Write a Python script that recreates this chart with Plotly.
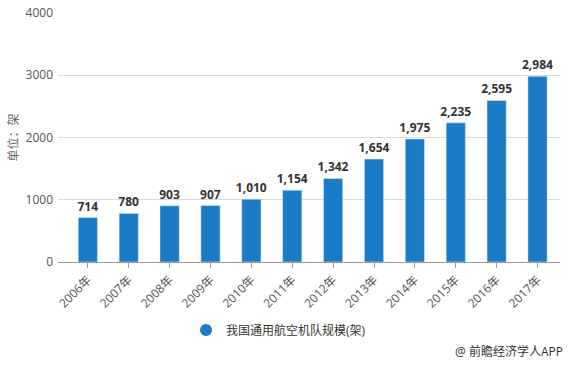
import plotly.graph_objects as go

years = ["2006年", "2007年", "2008年", "2009年", "2010年", "2011年",
         "2012年", "2013年", "2014年", "2015年", "2016年", "2017年"]
fleet = [714, 780, 903, 907, 1010, 1154, 1342, 1654, 1975, 2235, 2595, 2984]
series_name = "我国通用航空机队规模(架)"
y_ticks = [0, 1000, 2000, 3000, 4000]

FONT = "Open Sans, Noto Sans CJK SC, sans-serif"
BAR = "#1b7bc7"

fig = go.Figure()
fig.add_trace(go.Bar(
    x=list(range(len(years))),
    y=fleet,
    name=series_name,
    marker=dict(color=BAR),
    width=0.47,
    text=[f"{v:,}" for v in fleet],
    textposition="outside",
    textfont=dict(family=FONT, size=12, color="#333333", weight="bold"),
    cliponaxis=False,
    showlegend=False,
))
# legend entry with circular marker
fig.add_trace(go.Scatter(
    x=[None], y=[None], mode="markers", name=series_name,
    marker=dict(symbol="circle", size=11, color=BAR),
    showlegend=True,
))

fig.update_layout(
    width=568, height=366,
    margin=dict(l=58, r=8, t=13, b=104),
    paper_bgcolor="white", plot_bgcolor="white",
    font=dict(family=FONT, size=12, color="#555555"),
    uniformtext=dict(minsize=12, mode="show"),
    xaxis=dict(
        tickmode="array",
        tickvals=list(range(len(years))),
        ticktext=years,
        tickangle=-45,
        range=[-0.73, 11.55],
        showline=True, linecolor="#999999", linewidth=1,
        ticks="outside", ticklen=5, tickcolor="#999999",
        showgrid=False, zeroline=False,
        tickfont=dict(size=12, color="#555555"),
        automargin=False,
    ),
    yaxis=dict(
        range=[0, 4000],
        tickvals=y_ticks,
        showgrid=True, gridcolor="#d9d9d9", gridwidth=1,
        zeroline=False, showline=False,
        ticks="", ticklabelstandoff=4,
        tickfont=dict(size=12, color="#555555"),
        title=dict(text="单位：架", font=dict(size=12, color="#666666"), standoff=4),
        automargin=False,
    ),
    legend=dict(
        orientation="h", x=0.255, xanchor="left", y=-0.273, yanchor="middle",
        font=dict(size=12, color="#333333"),
        itemsizing="constant",
    ),
    annotations=[dict(
        text="@ 前瞻经济学人APP", xref="paper", yref="paper",
        x=1.01, y=-0.36, xanchor="right", yanchor="middle", showarrow=False,
        font=dict(size=12, color="#333333"),
    )],
)

fig.write_html("out.html", config={"displayModeBar": False},
               post_script="document.body.style.margin='0';")
